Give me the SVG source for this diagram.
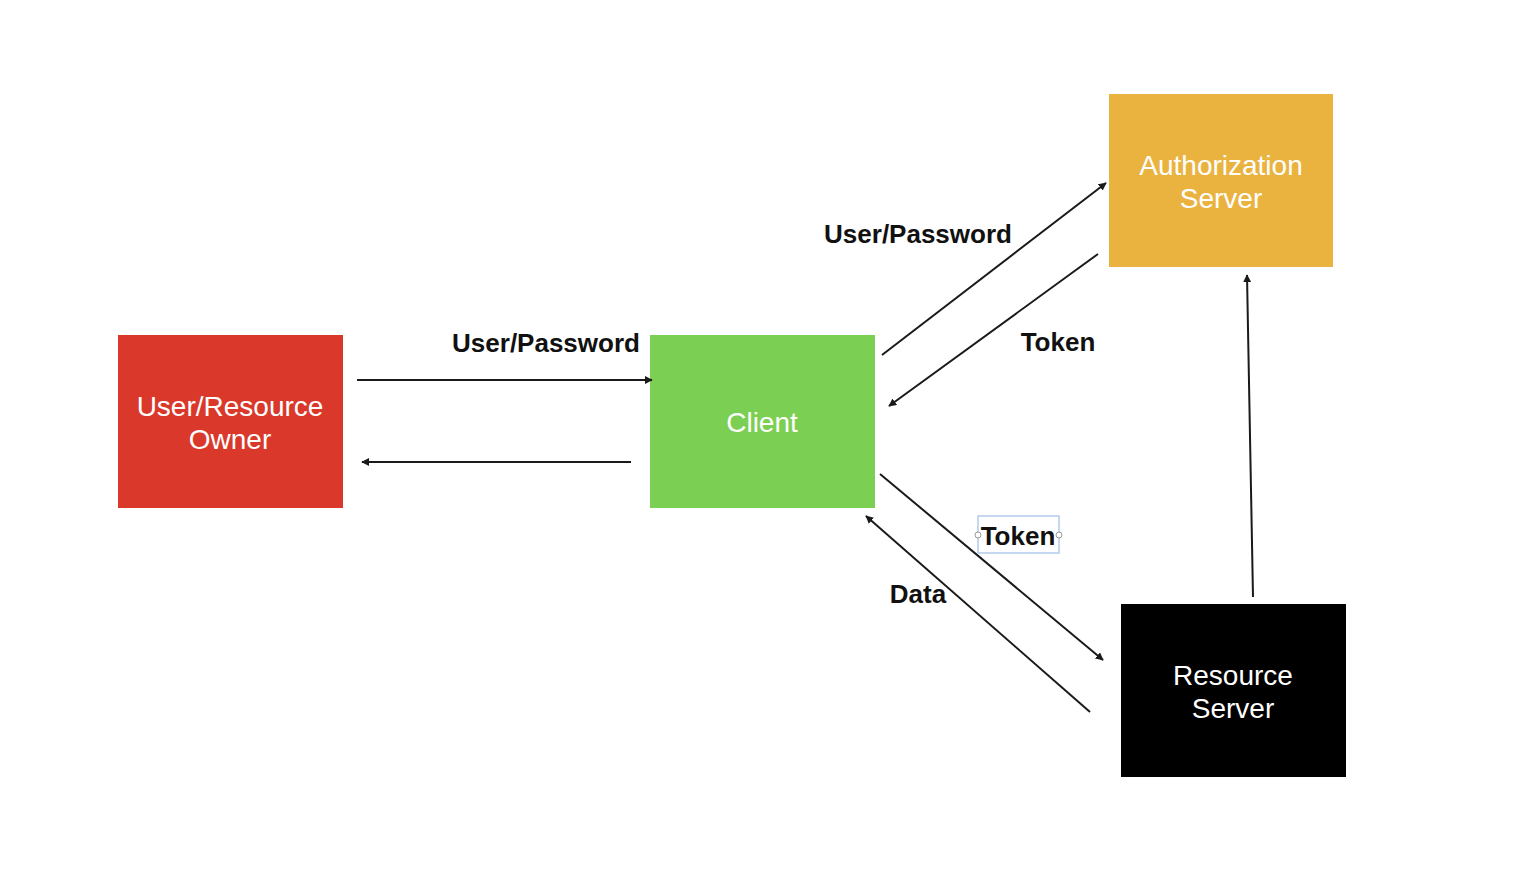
<svg xmlns="http://www.w3.org/2000/svg" width="1538" height="876" viewBox="0 0 1538 876">
<defs>
<marker id="ah" viewBox="0 0 10 10" refX="9" refY="5" markerWidth="8" markerHeight="8" markerUnits="userSpaceOnUse" orient="auto">
<path d="M0,0 L10,5 L0,10 z" fill="#1a1a1a"/>
</marker>
</defs>
<style>
.node text{font-family:"Liberation Sans",Arial,sans-serif;font-size:28px;fill:#ffffff;text-anchor:middle}
.lbl{font-family:"Liberation Sans",Arial,sans-serif;font-size:26px;font-weight:bold;fill:#111111;text-anchor:middle}
.conn line{stroke:#1a1a1a;stroke-width:2;marker-end:url(#ah)}
</style>
<rect width="1538" height="876" fill="#ffffff"/>
<g id="owner" class="node">
<rect x="118" y="335" width="225" height="173" fill="#D9382A"/>
<text x="230" y="416">User/Resource</text>
<text x="230" y="449">Owner</text>
</g>
<g id="client" class="node">
<rect x="650" y="335" width="225" height="173" fill="#7BCF53"/>
<text x="762" y="432">Client</text>
</g>
<g id="auth" class="node">
<rect x="1109" y="94" width="224" height="173" fill="#EAB340"/>
<text x="1221" y="175">Authorization</text>
<text x="1221" y="208">Server</text>
</g>
<g id="resource" class="node">
<rect x="1121" y="604" width="225" height="173" fill="#000000"/>
<text x="1233" y="685">Resource</text>
<text x="1233" y="718">Server</text>
</g>
<g id="connectors" class="conn">
<line x1="357" y1="380" x2="652" y2="380"/>
<line x1="631" y1="462" x2="362" y2="462"/>
<line x1="882" y1="355" x2="1106" y2="183"/>
<line x1="1098" y1="254" x2="889" y2="406"/>
<line x1="880" y1="474" x2="1103" y2="660"/>
<line x1="1090" y1="712" x2="866" y2="516"/>
<line x1="1253" y1="597" x2="1247" y2="275"/>
</g>
<g id="labels">
<text class="lbl" x="546" y="352">User/Password</text>
<text class="lbl" x="918" y="243">User/Password</text>
<text class="lbl" x="1058" y="351">Token</text>
<rect x="978" y="516" width="81" height="37" fill="none" stroke="#B3CBEA" stroke-width="1.5"/>
<circle cx="978" cy="535" r="3" fill="#ffffff" stroke="#999999" stroke-width="1"/>
<circle cx="1059" cy="535" r="3" fill="#ffffff" stroke="#999999" stroke-width="1"/>
<text class="lbl" x="1018" y="545">Token</text>
<text class="lbl" x="918" y="603">Data</text>
</g>
</svg>
